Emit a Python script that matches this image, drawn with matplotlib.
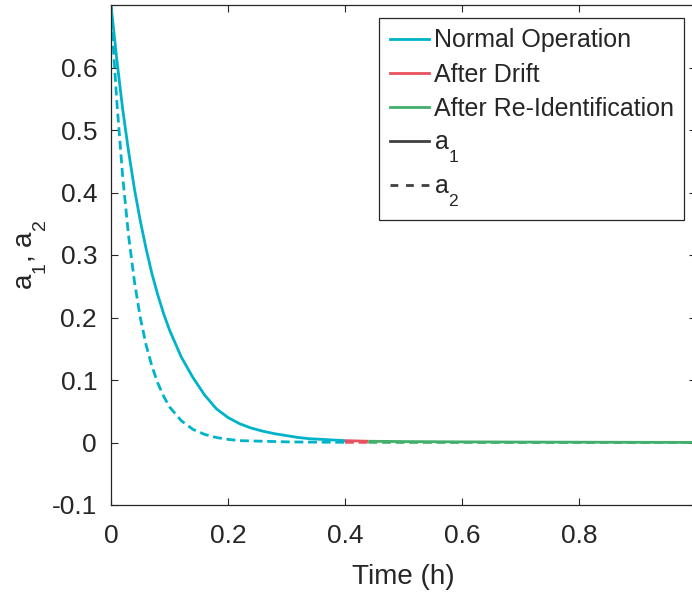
import matplotlib
matplotlib.use("Agg")
import matplotlib.pyplot as plt
from matplotlib.lines import Line2D
import matplotlib._mathtext as _mt

# lower subscripts more (MATLAB-like look)
_mt.FontConstantsBase.sub1 = 0.95
_mt.FontConstantsBase.sub2 = 0.95

plt.rcParams['font.family'] = ['Liberation Sans', 'DejaVu Sans']
plt.rcParams['mathtext.fontset'] = 'custom'
plt.rcParams['mathtext.rm'] = 'Liberation Sans'

# ---- data ----
t_normal = [0.0, 0.005, 0.01, 0.02, 0.03, 0.04, 0.05, 0.06, 0.07, 0.08, 0.09, 0.10,
            0.12, 0.14, 0.16, 0.18, 0.20, 0.22, 0.24, 0.26, 0.28, 0.30, 0.32,
            0.34, 0.36, 0.38, 0.40]
a1_normal = [0.700, 0.656, 0.612, 0.533, 0.466, 0.406, 0.355, 0.310, 0.270, 0.236,
             0.206, 0.180, 0.137, 0.104, 0.076, 0.054, 0.040, 0.030, 0.023, 0.018,
             0.014, 0.011, 0.008, 0.006, 0.005, 0.004, 0.003]
a2_normal = [0.700, 0.618, 0.545, 0.425, 0.331, 0.258, 0.200, 0.156, 0.122, 0.095,
             0.074, 0.057, 0.035, 0.021, 0.013, 0.008, 0.005, 0.003, 0.0025, 0.002,
             0.0015, 0.001, 0.0008, 0.0006, 0.0005, 0.0004, 0.0003]

t_drift = [0.40, 0.42, 0.44]
a1_drift = [0.003, 0.0025, 0.002]
a2_drift = [0.0003, 0.0002, 0.0002]

t_reid = [0.44, 0.50, 0.60, 0.70, 0.80, 0.90, 1.00]
a1_reid = [0.002, 0.0015, 0.001, 0.0007, 0.0005, 0.0003, 0.0002]
a2_reid = [0.0002, 0.0001, 0.0001, 0.0, 0.0, 0.0, 0.0]

x_ticks = [0, 0.2, 0.4, 0.6, 0.8, 1.0]
x_ticklabels = ['0', '0.2', '0.4', '0.6', '0.8', '']
y_ticks = [-0.1, 0, 0.1, 0.2, 0.3, 0.4, 0.5, 0.6]
y_ticklabels = ['-0.1', '0', '0.1', '0.2', '0.3', '0.4', '0.5', '0.6']

c_normal = '#00B3C9'
c_drift = '#E8525F'
c_reid = '#42AF6C'
c_dark = '#262626'

fig = plt.figure(figsize=(6.92, 5.95), dpi=100)
ax = fig.add_axes([111/692, 1-505/595, (696-111)/692, (505-5)/595])

lw = 2.0
dash = (3.2, 1.7)
for t, a1, a2, c in [(t_normal, a1_normal, a2_normal, c_normal),
                     (t_drift, a1_drift, a2_drift, c_drift),
                     (t_reid, a1_reid, a2_reid, c_reid)]:
    ax.plot(t, a1, color=c, lw=lw, solid_capstyle='butt')
    ax.plot(t, a2, color=c, lw=lw, linestyle=(0, dash))

ax.set_xlim(0, 1)
ax.set_ylim(-0.1, 0.7)
ax.set_xticks(x_ticks)
ax.set_xticklabels(x_ticklabels)
ax.set_yticks(y_ticks)
ax.set_yticklabels(y_ticklabels)
ax.tick_params(direction='in', length=5, width=0.8, colors=c_dark, labelsize=19,
               top=True, right=True)
ax.tick_params(axis='x', pad=14)
ax.tick_params(axis='y', pad=10)
for s in ax.spines.values():
    s.set_color(c_dark)
    s.set_linewidth(0.9)

ax.set_xlabel('Time (h)', fontsize=20, color=c_dark, labelpad=11)
ax.set_ylabel(r'$\mathregular{a_1}$, $\mathregular{a_2}$', fontsize=20, color=c_dark, labelpad=2)

handles = [Line2D([], [], color=c_normal, lw=lw),
           Line2D([], [], color=c_drift, lw=lw),
           Line2D([], [], color=c_reid, lw=lw),
           Line2D([], [], color='#404040', lw=lw),
           Line2D([], [], color='#404040', lw=lw, linestyle=(0, (2.8, 2.8)))]
labels = ['Normal Operation', 'After Drift', 'After Re-Identification',
          r'$\mathregular{a_1}$', r'$\mathregular{a_2}$']
leg = fig.legend(handles, labels, loc='upper right',
                 bbox_to_anchor=(684/692, 1-18/595), bbox_transform=fig.transFigure,
                 borderaxespad=0, fancybox=False, fontsize=18, handlelength=1.55,
                 handletextpad=0.2, labelspacing=0.4, borderpad=0.42, framealpha=1)
leg.get_frame().set_edgecolor(c_dark)
leg.get_frame().set_linewidth(0.9)
for txt in leg.get_texts():
    txt.set_color(c_dark)

fig.savefig('out.png', dpi=100)
